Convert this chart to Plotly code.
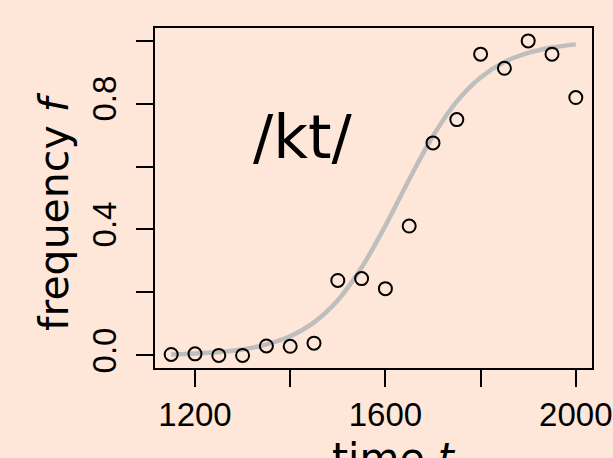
import plotly.graph_objects as go

# observed points
years = [1150, 1200, 1250, 1300, 1350, 1400, 1450, 1500, 1550, 1600,
         1650, 1700, 1750, 1800, 1850, 1900, 1950, 2000]
freq = [0.003, 0.005, 0.0, 0.0, 0.03, 0.029, 0.039, 0.238, 0.244, 0.212,
        0.411, 0.675, 0.749, 0.957, 0.912, 0.999, 0.957, 0.819]

# fitted curve values
curve_years = [1150, 1200, 1250, 1300, 1350, 1400, 1450, 1500, 1550, 1600,
               1650, 1700, 1750, 1800, 1850, 1900, 1950, 2000]
curve_freq = [0.003, 0.006, 0.011, 0.019, 0.035, 0.061, 0.105, 0.175, 0.279, 0.412,
              0.559, 0.697, 0.807, 0.883, 0.932, 0.961, 0.978, 0.988]

x_ticks = [1200, 1400, 1600, 1800, 2000]
x_labels = ["1200", "", "1600", "", "2000"]
y_ticks = [0.0, 0.2, 0.4, 0.6, 0.8, 1.0]
y_labels = ["0.0", "", "0.4", "", "0.8", ""]

bg = "#FEE6D8"
tickfont = dict(family="Liberation Sans, Arial", size=33, color="black")
titlefont = dict(family="DejaVu Sans", size=41, color="black")

L, R, T, B = 155, 21, 28, 90
W, H = 613, 458
pw, ph = W - L - R, H - T - B


def px_to_paper(px, py):
    return (px - L) / pw, (H - B - py) / ph


fig = go.Figure()
fig.add_trace(go.Scatter(x=curve_years, y=curve_freq, mode="lines",
                         line=dict(color="#BEBEBE", width=4.5, shape="spline"),
                         hoverinfo="skip", showlegend=False))
fig.add_trace(go.Scatter(x=years, y=freq, mode="markers",
                         marker=dict(symbol="circle-open", size=13,
                                     line=dict(color="black", width=2), color="black"),
                         showlegend=False))

axis_common = dict(showline=True, mirror=True, linecolor="black", linewidth=1.5,
                   ticks="outside", ticklen=17, tickwidth=1.5, tickcolor="black",
                   showgrid=False, zeroline=False, tickfont=tickfont, automargin=False)

ylab_x, ylab_y = px_to_paper(54, 212)
xlab_x, xlab_y = px_to_paper(394, 432)

fig.update_layout(
    template="none",
    width=W, height=H,
    margin=dict(l=L, r=R, t=T, b=B, pad=0),
    paper_bgcolor=bg, plot_bgcolor=bg,
    xaxis=dict(range=[1116, 2034], tickvals=x_ticks, ticktext=x_labels, **axis_common),
    yaxis=dict(range=[-0.04, 1.04], tickvals=y_ticks, ticktext=y_labels, tickangle=-90,
               ticklabelstandoff=7, **axis_common),
    annotations=[
        dict(text="/kt/", x=1425, y=0.695, xref="x", yref="y", showarrow=False,
             xanchor="center", yanchor="middle",
             font=dict(family="DejaVu Sans", size=60, color="black")),
        dict(text="frequency <i>f</i>", x=ylab_x, y=ylab_y, xref="paper", yref="paper",
             xanchor="center", yanchor="middle",
             showarrow=False, textangle=-90, font=titlefont),
        dict(text="time <i>t</i>", x=xlab_x, y=xlab_y, xref="paper", yref="paper",
             xanchor="center", yanchor="top",
             showarrow=False, font=titlefont),
    ],
)

fig.write_html("out.html", config={"displayModeBar": False},
               post_script="document.body.style.margin='0';document.body.style.background='%s';" % bg)
